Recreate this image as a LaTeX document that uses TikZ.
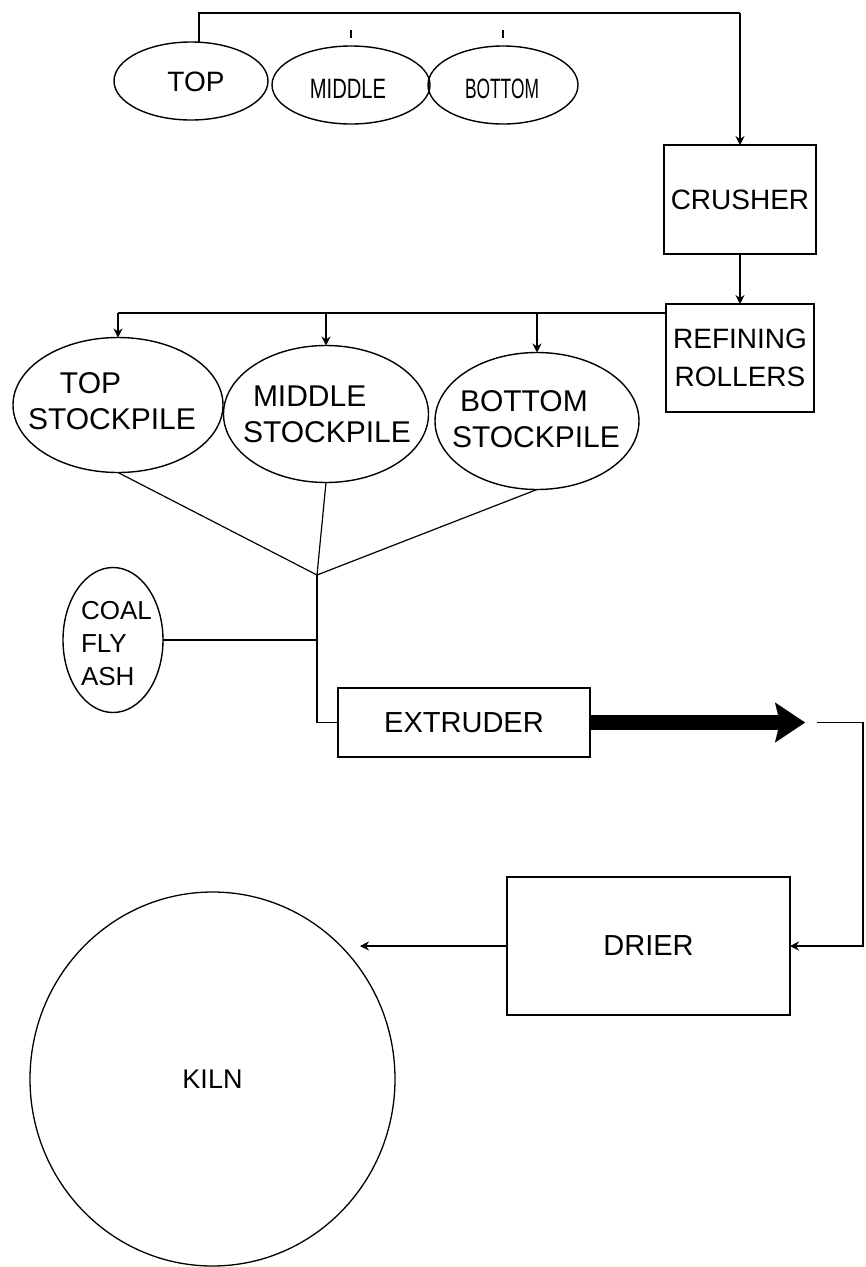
\documentclass[tikz,border=0pt]{standalone}
\usepackage{fontspec}
\usepackage{graphicx}
\setmainfont{Liberation Sans}
\usetikzlibrary{shapes.geometric,arrows.meta,calc}
\begin{document}
\begin{tikzpicture}[x=1pt,y=-1pt,
  every node/.style={inner sep=0pt, outer sep=0pt},
  oval/.style={draw, ellipse, line width=1.4pt},
  box/.style={draw, rectangle, line width=1.8pt, font=\fontsize{28}{38}\selectfont, align=center},
  txt/.style={font=\fontsize{28}{34}\selectfont, align=center},
  stxt/.style={font=\fontsize{30}{36}\selectfont, align=left, anchor=west},
  flow/.style={line width=1.6pt},
  thinline/.style={line width=1.2pt},
  arr/.style={flow, -{Stealth[length=9pt,width=9pt]}}]
\useasboundingbox[fill=white] (0,0) rectangle (866,1267);

% raw material ellipses
\node[oval, minimum width=154pt, minimum height=78pt] (top) at (191,81) {};
\node[txt] (top-t) at (196,82) {TOP};
\node[oval, minimum width=158pt, minimum height=78pt] (mid) at (351,85) {};
\node[txt] (mid-t) at (348,89) {\scalebox{0.72}[1]{MIDDLE}};
\node[oval, minimum width=150pt, minimum height=78pt] (bot) at (503,85) {};
\node[txt] (bot-t) at (502,89) {\scalebox{0.62}[1]{BOTTOM}};

% process boxes
\node[box, minimum width=152pt, minimum height=109pt] (crusher) at (740,199.5) {CRUSHER};
\node[box, minimum width=148pt, minimum height=108pt] (refining) at (740,358) {REFINING\\ROLLERS};

% top collector line
\coordinate (t0) at (199,13);
\coordinate (t1) at (740,13);
\draw[flow] (t0 |- top.north) -- (t0) -- (t1);
\draw[arr] (t1) -- (crusher.north);
\draw[thinline] ($(mid.north)+(0,-8)$) -- ++(0,-8);
\draw[thinline] ($(bot.north)+(0,-8)$) -- ++(0,-8);
\draw[arr] (crusher.south) -- (refining.north);

% stockpiles
\node[oval, minimum width=210pt, minimum height=135pt] (topsp) at (118,405) {};
\node[stxt] (topsp-t) at (28,401) {\hspace*{32pt}TOP\\STOCKPILE};
\node[oval, minimum width=205pt, minimum height=137pt] (midsp) at (326,414) {};
\node[stxt] (midsp-t) at (243,414) {\hspace*{10pt}MIDDLE\\STOCKPILE};
\node[oval, minimum width=204pt, minimum height=137pt] (botsp) at (537,421) {};
\node[stxt] (botsp-t) at (452,419) {\hspace*{8pt}BOTTOM\\STOCKPILE};

\coordinate (h0) at (118,313);
\draw[flow] (refining.west |- h0) -- (h0);
\draw[arr] (h0) -- (topsp.north);
\draw[arr] (midsp.north |- h0) -- (midsp.north);
\draw[arr] (botsp.north |- h0) -- (botsp.north);

% blending
\coordinate (J) at (317,575);
\draw[thinline] (topsp.south) -- (J);
\draw[thinline] (midsp.south) -- (J);
\draw[thinline] (botsp.south) -- (J);

\node[oval, minimum width=100pt, minimum height=145pt] (coal) at (113,640) {};
\node[font=\fontsize{26}{33}\selectfont, align=left, anchor=west] (coal-t) at (81,644) {COAL\\FLY\\ASH};

\node[box, minimum width=252pt, minimum height=69pt, font=\fontsize{29}{34}\selectfont] (extruder) at (464,722.5) {EXTRUDER};

\draw[thinline] (coal.east) -- (coal.east -| J);
\draw[thinline] (J) -- (J |- extruder.west) -- (extruder.west);

% extruder output
\coordinate (tip) at (805,722.5);
\draw[line width=15pt, -{Stealth[length=30pt,width=40pt,inset=5pt,line width=0.1pt]}] (extruder.east) -- (tip);

\node[box, minimum width=283pt, minimum height=138pt, font=\fontsize{29}{34}\selectfont] (drier) at (648.5,946) {DRIER};

\coordinate (r0) at (817,722.5);
\coordinate (r1) at (863,722.5);
\draw[arr] (r0) -- (r1) -- (r1 |- drier.east) -- (drier.east);

% kiln
\node[draw, ellipse, line width=1.3pt, minimum width=365pt, minimum height=374pt, font=\fontsize{27}{32}\selectfont] (kiln) at (212.5,1079) {KILN};
\coordinate (kin) at (360,946);
\draw[arr] (drier.west) -- (kin);
\end{tikzpicture}
\end{document}
